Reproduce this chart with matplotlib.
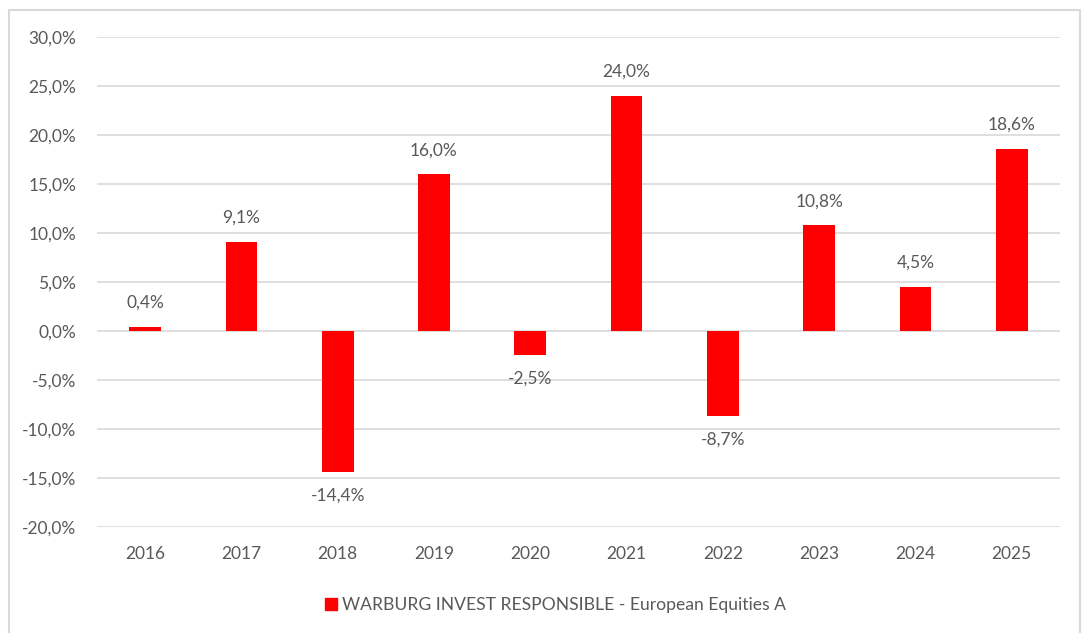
import matplotlib
matplotlib.use("Agg")
import matplotlib.pyplot as plt
from matplotlib.patches import Rectangle
from matplotlib.lines import Line2D

years = ["2016", "2017", "2018", "2019", "2020", "2021", "2022", "2023", "2024", "2025"]
returns = [0.4, 9.1, -14.4, 16.0, -2.5, 24.0, -8.7, 10.8, 4.5, 18.6]
series_name = "WARBURG INVEST RESPONSIBLE - European Equities A"
yticks = [-20, -15, -10, -5, 0, 5, 10, 15, 20, 25, 30]

plt.rcParams['font.family'] = ['Lato', 'DejaVu Sans']
gray = "#595959"
red = "#FF0000"

fig = plt.figure(figsize=(10.87, 6.33), dpi=100)
ax = fig.add_axes([0.0892, 0.1675, 0.8858, 0.774])

x = list(range(len(years)))
ax.bar(x, returns, width=0.33, color=red, zorder=3)
ax.set_xlim(-0.5, len(years) - 0.5)
ax.set_ylim(-20, 30)
ax.set_yticks(yticks)
ax.set_yticklabels([f"{v:.1f}%".replace(".", ",") for v in yticks])
ax.set_xticks(x)
ax.set_xticklabels(years)
ax.tick_params(axis='both', length=0, labelsize=12.5, labelcolor=gray)
ax.tick_params(axis='y', pad=15)
ax.tick_params(axis='x', pad=14)
for s in ax.spines.values():
    s.set_visible(False)
ax.grid(axis='y', color="#d9d9d9", linewidth=1.2, zorder=0)
ax.set_axisbelow(True)

for xi, v in zip(x, returns):
    lbl = f"{v:.1f}%".replace(".", ",")
    if v >= 0:
        ax.annotate(lbl, (xi, v), xytext=(0, 11.5), textcoords='offset points',
                    ha='center', va='bottom', fontsize=12.5, color=gray)
    else:
        ax.annotate(lbl, (xi, v), xytext=(0, -11), textcoords='offset points',
                    ha='center', va='top', fontsize=12.5, color=gray)

handle = Line2D([], [], marker='s', linestyle='none', markersize=9,
                markerfacecolor=red, markeredgecolor=red)
fig.legend([handle], [series_name], loc='center', bbox_to_anchor=(0.51, 0.044),
           frameon=False, fontsize=12.6, labelcolor=gray, handletextpad=0.1,
           handlelength=1.0)

fig.patches.append(Rectangle((9 / 1087, -0.05), (1080 - 9) / 1087, 1.05 - 10 / 633,
                             transform=fig.transFigure, fill=False,
                             edgecolor="#d9d9d9", linewidth=1.5))

fig.savefig("out.png", dpi=100)
